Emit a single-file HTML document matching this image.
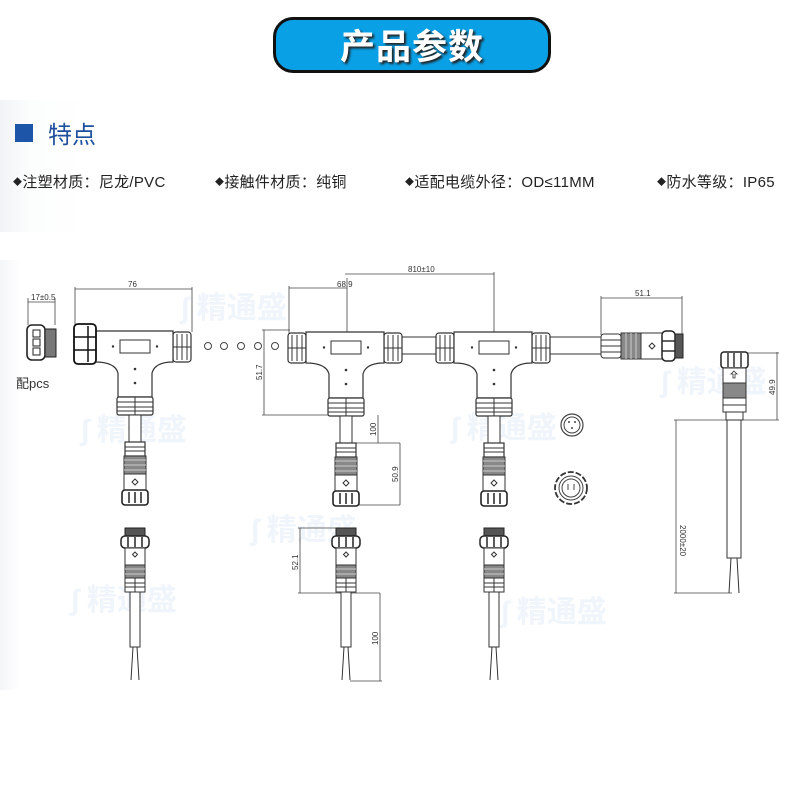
<!DOCTYPE html>
<html><head><meta charset="utf-8"><style>
html,body{margin:0;padding:0;background:#fff;}
body{width:790px;height:789px;overflow:hidden;position:relative;font-family:"Liberation Sans","Noto Sans CJK SC",sans-serif;}
.band{position:absolute;left:0;top:100px;width:790px;height:132px;background:linear-gradient(90deg,#f1f3f6 0,#fcfdfd 30px,#fff 90px);}
.band2{position:absolute;left:0;top:260px;width:790px;height:430px;background:linear-gradient(90deg,#f4f5f7 0,#fff 20px);}
.btn{position:absolute;left:273px;top:17px;width:272px;height:50px;border:3px solid #111;border-radius:20px;background:#0aa0e6;text-align:center;line-height:50px;color:#fff;font-size:35px;font-weight:bold;letter-spacing:1px;text-shadow:2px 2px 2px #222;font-family:"Noto Sans CJK SC",sans-serif;}
.sq{position:absolute;left:15px;top:124px;width:18px;height:18px;background:#1d55a8;}
.tt{position:absolute;left:48px;top:118px;font-size:24px;color:#1d4f9e;font-family:"Noto Sans CJK SC",sans-serif;line-height:30px;}
.it{position:absolute;top:172px;font-size:15px;letter-spacing:0.3px;color:#222;line-height:20px;font-family:"Liberation Sans","Noto Sans CJK SC",sans-serif;white-space:nowrap;}
.it b{font-weight:normal;font-size:9px;vertical-align:2px;}
svg{position:absolute;left:0;top:0;}
</style></head><body>
<div class="band"></div><div class="band2"></div>
<div class="btn">产品参数</div>
<div class="sq"></div><div class="tt">特点</div>
<div class="it" style="left:13px"><b>◆</b>注塑材质：尼龙/PVC</div>
<div class="it" style="left:215px"><b>◆</b>接触件材质：纯铜</div>
<div class="it" style="left:405px"><b>◆</b>适配电缆外径：OD≤11MM</div>
<div class="it" style="left:657px"><b>◆</b>防水等级：IP65</div>
<svg width="790" height="789" viewBox="0 0 790 789" font-family="Liberation Sans, sans-serif">
<defs>
<g id="fem">
 <rect x="-10" y="0" width="20" height="14" fill="#fff" stroke="#333" stroke-width="1.2"/>
 <line x1="-10" y1="5" x2="10" y2="5" stroke="#333"/><line x1="-10" y1="9" x2="10" y2="9" stroke="#333"/>
 <rect x="-11" y="14" width="22" height="18" fill="#888" stroke="#333"/>
 <line x1="-11" y1="18" x2="11" y2="18" stroke="#ccc"/><line x1="-11" y1="23" x2="11" y2="23" stroke="#ccc"/><line x1="-11" y1="28" x2="11" y2="28" stroke="#ccc"/>
 <rect x="-11" y="32" width="22" height="16" fill="#fff" stroke="#333"/>
 <path d="M0 37 l3 3 -3 3 -3 -3z" fill="none" stroke="#333"/>
 <rect x="-13" y="48" width="26" height="15" rx="3" fill="#fff" stroke="#222" stroke-width="1.6"/>
 <line x1="-6" y1="50" x2="-6" y2="61" stroke="#222" stroke-width="1.5"/><line x1="0" y1="50" x2="0" y2="61" stroke="#222" stroke-width="1.5"/><line x1="6" y1="50" x2="6" y2="61" stroke="#222" stroke-width="1.5"/>
</g>
<g id="grip">
 <rect x="0" y="0" width="18" height="30" rx="3" fill="#fff" stroke="#333" stroke-width="1.2"/>
 <line x1="4" y1="2" x2="4" y2="28" stroke="#333"/><line x1="9" y1="2" x2="9" y2="28" stroke="#333"/><line x1="14" y1="2" x2="14" y2="28" stroke="#333"/>
 <line x1="0" y1="15" x2="18" y2="15" stroke="#333"/>
</g>
<g id="T">
 <use href="#grip" x="-58" y="1"/>
 <use href="#grip" x="38" y="1"/>
 <path d="M-40 0 H38 V31 Q20 31 17 42 V66 H-17 V42 Q-20 31 -40 31 Z" fill="#fff" stroke="#333" stroke-width="1.2"/>
 <rect x="-15" y="9" width="30" height="13" fill="#fff" stroke="#333"/>
 <circle cx="-22" cy="15.5" r="1.2" fill="#333"/><circle cx="22" cy="15.5" r="1.2" fill="#333"/>
 <circle cx="0" cy="38" r="1.3" fill="#333"/><circle cx="0" cy="52" r="1.3" fill="#333"/>
 <rect x="-18" y="66" width="36" height="18" rx="2" fill="#fff" stroke="#333" stroke-width="1.2"/>
 <line x1="-18" y1="71" x2="18" y2="71" stroke="#333"/><line x1="-18" y1="76" x2="18" y2="76" stroke="#333"/><line x1="-18" y1="80" x2="18" y2="80" stroke="#333"/>
 <line x1="0" y1="66" x2="0" y2="84" stroke="#333"/>
 <rect x="-6" y="84" width="12" height="30" fill="#fff" stroke="#333"/>
 <use href="#fem" x="0" y="111"/>
</g>
<g id="male">
 <rect x="-10" y="0" width="20" height="8" fill="#555" stroke="#222"/>
 <rect x="-14" y="8" width="28" height="12" rx="4" fill="#fff" stroke="#222" stroke-width="1.5"/>
 <line x1="-7" y1="9" x2="-7" y2="19" stroke="#222" stroke-width="1.5"/><line x1="0" y1="9" x2="0" y2="19" stroke="#222" stroke-width="1.5"/><line x1="7" y1="9" x2="7" y2="19" stroke="#222" stroke-width="1.5"/>
 <rect x="-10" y="20" width="20" height="17" fill="#fff" stroke="#333"/>
 <path d="M0 24 l2.5 2.5 -2.5 2.5 -2.5 -2.5z" fill="none" stroke="#333"/>
 <rect x="-10" y="37" width="20" height="13" fill="#888" stroke="#333"/>
 <line x1="-10" y1="41" x2="10" y2="41" stroke="#ccc"/><line x1="-10" y1="46" x2="10" y2="46" stroke="#ccc"/>
 <rect x="-10" y="50" width="20" height="14" fill="#fff" stroke="#333"/>
 <line x1="-10" y1="55" x2="10" y2="55" stroke="#333"/><line x1="-10" y1="59" x2="10" y2="59" stroke="#333"/><line x1="0" y1="50" x2="0" y2="64" stroke="#333"/>
 <rect x="-5" y="64" width="10" height="55" fill="#fff" stroke="#333"/>
 <line x1="-2" y1="119" x2="-4" y2="152" stroke="#333"/><line x1="2" y1="119" x2="4" y2="152" stroke="#333"/>
</g>
</defs>

<g fill="#e3edf8" font-family="Noto Sans CJK SC, sans-serif" font-size="30" font-weight="bold" opacity="0.55">
<text x="180" y="318">ʃ 精通盛</text>
<text x="80" y="440">ʃ 精通盛</text>
<text x="450" y="438">ʃ 精通盛</text>
<text x="250" y="540">ʃ 精通盛</text>
<text x="70" y="610">ʃ 精通盛</text>
<text x="500" y="622">ʃ 精通盛</text>
<text x="660" y="392">ʃ 精通盛</text>
</g>

<g stroke="#444" stroke-width="0.8" fill="none">
 <line x1="28" y1="302" x2="55" y2="302"/><line x1="28" y1="298" x2="28" y2="325"/><line x1="55" y1="298" x2="55" y2="325"/>
 <line x1="75" y1="289" x2="192" y2="289"/><line x1="75" y1="287" x2="75" y2="328"/><line x1="192" y1="287" x2="192" y2="332"/>
 <line x1="289" y1="288" x2="347" y2="288"/><line x1="289" y1="286" x2="289" y2="334"/><line x1="347" y1="278" x2="347" y2="332"/>
 <line x1="345" y1="274" x2="494" y2="274"/><line x1="494" y1="272" x2="494" y2="332"/>
 <line x1="601" y1="298" x2="682" y2="298"/><line x1="601" y1="296" x2="601" y2="335"/><line x1="682" y1="296" x2="682" y2="335"/>
 <line x1="264" y1="330" x2="264" y2="415"/><line x1="262" y1="330" x2="290" y2="330"/><line x1="262" y1="415" x2="330" y2="415"/>
 <line x1="378" y1="415" x2="378" y2="443"/><line x1="346" y1="443" x2="400" y2="443"/>
 <line x1="400" y1="443" x2="400" y2="505"/><line x1="350" y1="505" x2="400" y2="505"/>
 <line x1="777" y1="352" x2="777" y2="420"/><line x1="745" y1="353" x2="779" y2="353"/><line x1="743" y1="420" x2="779" y2="420"/>
 <line x1="676" y1="420" x2="676" y2="593"/><line x1="674" y1="420" x2="726" y2="420"/><line x1="674" y1="593" x2="732" y2="593"/>
 <line x1="300" y1="528" x2="300" y2="593"/><line x1="298" y1="528" x2="340" y2="528"/><line x1="298" y1="593" x2="380" y2="593"/>
 <line x1="380" y1="593" x2="380" y2="681"/><line x1="350" y1="681" x2="382" y2="681"/>
</g>
<g font-size="8" fill="#333">
 <text x="31" y="300">17±0.5</text>
 <text x="128" y="287">76</text>
 <text x="337" y="287">68.9</text>
 <text x="408" y="272">810±10</text>
 <text x="635" y="296">51.1</text>
 <text transform="translate(262,380) rotate(-90)">51.7</text>
 <text transform="translate(376,436) rotate(-90)">100</text>
 <text transform="translate(398,482) rotate(-90)">50.9</text>
 <text transform="translate(775,395) rotate(-90)">49.9</text>
 <text transform="translate(680,525) rotate(90)">2000±20</text>
 <text transform="translate(298,570) rotate(-90)">52.1</text>
 <text transform="translate(378,645) rotate(-90)">100</text>
</g>

<rect x="27" y="325" width="18" height="35" rx="5" fill="#fff" stroke="#222" stroke-width="1.6"/>
<rect x="33" y="330" width="7" height="7" fill="none" stroke="#222"/><rect x="33" y="339" width="7" height="7" fill="none" stroke="#222"/><rect x="33" y="348" width="7" height="7" fill="none" stroke="#222"/>
<rect x="45" y="329" width="11" height="28" fill="#777" stroke="#222"/>
<text x="16" y="388" font-size="13" fill="#333" font-family="Liberation Sans, Noto Sans CJK SC, sans-serif">配pcs</text>

<g fill="#fff" stroke="#444" stroke-width="1">
<circle cx="208" cy="346" r="3.5"/><circle cx="224" cy="346" r="3.5"/><circle cx="241" cy="346" r="3.5"/><circle cx="258" cy="346" r="3.5"/><circle cx="275" cy="346" r="3.5"/>
</g>

<rect x="400" y="337" width="40" height="17" fill="#fff" stroke="#333"/>
<rect x="550" y="337" width="52" height="17" fill="#fff" stroke="#333"/>

<use href="#T" x="135" y="331"/>
<use href="#T" x="346" y="332"/>
<use href="#T" x="494" y="332"/>
<rect x="74" y="324" width="22" height="40" rx="4" fill="#fff" stroke="#111" stroke-width="1.8"/>
<line x1="74" y1="337" x2="96" y2="337" stroke="#111" stroke-width="1.5"/><line x1="74" y1="350" x2="96" y2="350" stroke="#111" stroke-width="1.5"/>
<line x1="88" y1="326" x2="88" y2="362" stroke="#111" stroke-width="1.5"/>

<rect x="601" y="334" width="20" height="24" rx="3" fill="#fff" stroke="#333"/>
<line x1="601" y1="340" x2="621" y2="340" stroke="#333"/><line x1="601" y1="346" x2="621" y2="346" stroke="#333"/><line x1="601" y1="352" x2="621" y2="352" stroke="#333"/>
<rect x="621" y="333" width="20" height="26" fill="#888" stroke="#333"/>
<line x1="626" y1="333" x2="626" y2="359" stroke="#ccc"/><line x1="631" y1="333" x2="631" y2="359" stroke="#ccc"/><line x1="636" y1="333" x2="636" y2="359" stroke="#ccc"/>
<rect x="641" y="333" width="22" height="26" fill="#fff" stroke="#333"/>
<path d="M652 343 l3 3 -3 3 -3 -3z" fill="none" stroke="#333"/>
<rect x="662" y="331" width="13" height="30" rx="4" fill="#fff" stroke="#222" stroke-width="1.5"/>
<line x1="662" y1="341" x2="675" y2="341" stroke="#222" stroke-width="1.4"/><line x1="662" y1="351" x2="675" y2="351" stroke="#222" stroke-width="1.4"/>
<rect x="675" y="334" width="8" height="24" fill="#555" stroke="#222"/>

<circle cx="572" cy="425" r="11" fill="#fff" stroke="#444" stroke-width="1.2"/><circle cx="572" cy="425" r="8" fill="none" stroke="#444"/>
<circle cx="569" cy="422" r="1" fill="#444"/><circle cx="575" cy="422" r="1" fill="#444"/><circle cx="572" cy="428" r="1" fill="#444"/>
<circle cx="571" cy="488" r="16" fill="#fff" stroke="#333" stroke-width="1.8" stroke-dasharray="6 2"/>
<circle cx="571" cy="488" r="12" fill="none" stroke="#444"/><circle cx="571" cy="488" r="9" fill="none" stroke="#444"/>
<line x1="568" y1="484" x2="568" y2="490" stroke="#444"/><line x1="574" y1="484" x2="574" y2="490" stroke="#444"/>

<rect x="721" y="352" width="27" height="16" rx="3" fill="#fff" stroke="#222" stroke-width="1.5"/>
<line x1="728" y1="353" x2="728" y2="367" stroke="#222" stroke-width="1.4"/><line x1="734" y1="353" x2="734" y2="367" stroke="#222" stroke-width="1.4"/><line x1="741" y1="353" x2="741" y2="367" stroke="#222" stroke-width="1.4"/>
<rect x="723" y="368" width="23" height="15" fill="#fff" stroke="#333"/>
<path d="M734 371 l3 3 h-2 v4 h-2 v-4 h-2z" fill="none" stroke="#333" stroke-width="0.8"/>
<rect x="723" y="383" width="23" height="15" fill="#888" stroke="#333"/>
<rect x="723" y="398" width="23" height="14" fill="#fff" stroke="#333"/>
<line x1="723" y1="405" x2="746" y2="405" stroke="#333"/>
<rect x="726" y="412" width="17" height="8" fill="#fff" stroke="#333"/>
<rect x="727" y="420" width="14" height="138" fill="#fff" stroke="#333"/>
<line x1="731" y1="558" x2="729" y2="593" stroke="#333"/><line x1="737" y1="558" x2="739" y2="593" stroke="#333"/>

<use href="#male" x="135" y="528"/>
<use href="#male" x="346" y="528"/>
<use href="#male" x="494" y="528"/>
</svg>
</body></html>
